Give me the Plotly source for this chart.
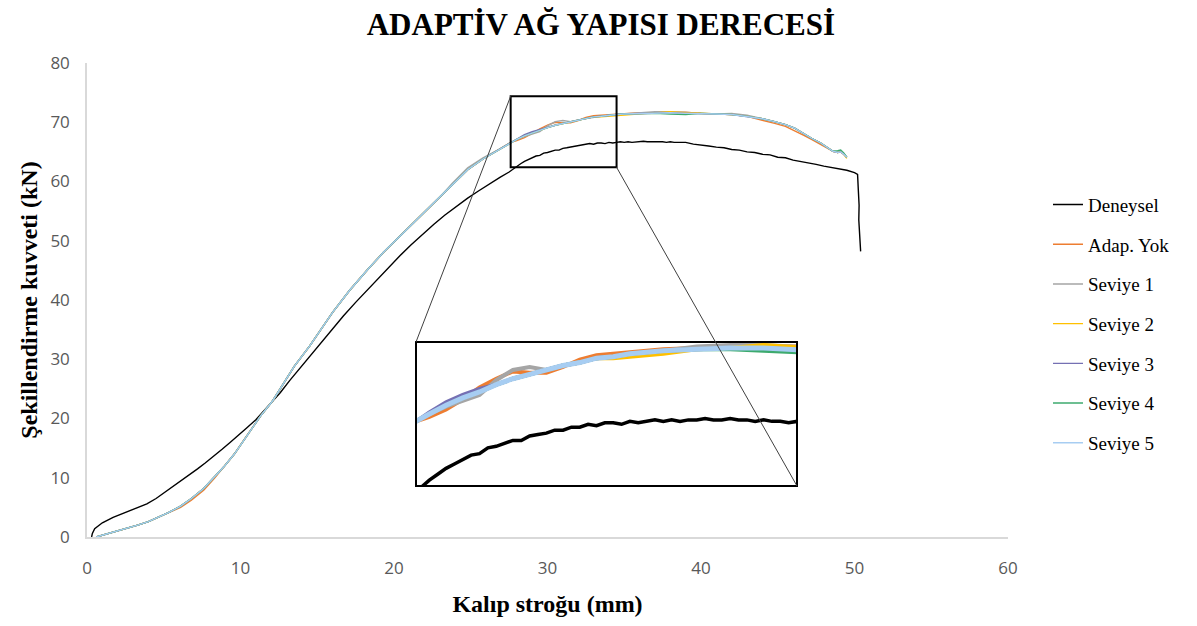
import plotly.graph_objects as go

# ---------------- data ----------------
SERIES_NAMES = ["Deneysel", "Adap. Yok", "Seviye 1", "Seviye 2", "Seviye 3", "Seviye 4", "Seviye 5"]
SERIES_COLORS = ["#000000", "#ED7D31", "#A5A5A5", "#FFC000", "#7570B3", "#3DAA6E", "#A7CDF2"]

X_TICKS = [0, 10, 20, 30, 40, 50, 60]
Y_TICKS = [0, 10, 20, 30, 40, 50, 60, 70, 80]

# Deneysel (experimental) curve: stroke (mm) / force (kN)
EXP_X = [0.3, 0.35, 0.5, 1.0, 1.7, 2.4, 3.0, 3.9, 4.5, 5.0,
         5.6, 6.1, 6.7, 7.2, 7.7, 8.2, 8.8, 9.3, 9.9, 10.4,
         11.0, 11.5, 12.0, 12.6, 13.2, 13.9, 14.5, 15.2, 16.0, 16.7,
         17.5, 18.3, 19.0, 19.7, 20.4, 21.1, 21.8, 22.6, 23.3, 24.0,
         24.8, 25.5, 26.2, 26.9, 27.5, 27.75, 28.0, 28.25, 28.5, 28.75,
         29.0, 29.25, 29.5, 29.75, 30.0, 30.25, 30.5, 30.75, 31.0, 31.25,
         31.5, 31.75, 32.0, 32.25, 32.5, 32.75, 33.0, 33.25, 33.5, 33.75,
         34.0, 34.25, 34.5, 34.75, 35.0, 35.25, 35.5, 35.75, 36.0, 36.25,
         36.5, 36.75, 37.0, 37.25, 37.5, 37.75, 38.0, 38.25, 38.5, 38.75,
         39.0, 39.5, 40.0, 40.5, 41.0, 41.5, 42.0, 42.5, 43.0, 43.5,
         44.0, 44.5, 45.0, 45.5, 46.0, 46.5, 47.0, 47.5, 48.0, 48.5,
         49.0, 49.5, 50.0, 50.2, 50.25, 50.3, 50.28, 50.35, 50.4]
EXP_Y = [0.0, 0.6, 1.4, 2.4, 3.3, 4.0, 4.6, 5.6, 6.5, 7.4,
         8.5, 9.5, 10.5, 11.5, 12.5, 13.5, 14.8, 15.9, 17.2, 18.4,
         19.8, 21.2, 22.6, 24.4, 26.4, 28.6, 30.5, 32.7, 35.2, 37.3,
         39.6, 41.8, 43.8, 45.7, 47.5, 49.3, 51.0, 52.8, 54.3, 55.7,
         57.2, 58.4, 59.6, 60.7, 61.6, 62.1, 62.6, 63.0, 63.4, 63.7,
         64.0, 64.3, 64.4, 64.8, 64.9, 65.1, 65.3, 65.3, 65.6, 65.7,
         65.8, 66.0, 66.0, 66.2, 66.2, 66.4, 66.3, 66.5, 66.5, 66.4,
         66.6, 66.5, 66.6, 66.7, 66.6, 66.7, 66.6, 66.7, 66.7, 66.8,
         66.7, 66.7, 66.8, 66.7, 66.7, 66.6, 66.7, 66.6, 66.6, 66.5,
         66.6, 66.3, 66.2, 66.0, 65.8, 65.7, 65.4, 65.3, 65.0, 64.9,
         64.6, 64.5, 64.1, 64.0, 63.6, 63.4, 63.1, 62.9, 62.6, 62.4,
         62.1, 61.9, 61.5, 61.2, 58.5, 56.0, 53.5, 51.0, 48.2]

# Simulation curves share one stroke grid
SIM_X = [0.6, 1.0, 1.7, 2.5, 3.3, 4.0, 4.6, 5.3, 6.1, 6.8,
         7.6, 8.3, 8.9, 9.6, 10.2, 10.8, 11.3, 12.1, 12.8, 13.5,
         14.5, 15.2, 16.0, 17.1, 18.3, 19.3, 20.4, 21.5, 22.6, 23.0,
         23.8, 24.8, 25.8, 26.9, 27.6, 28.0, 28.5, 29.0, 29.5, 30.0,
         30.5, 31.0, 31.5, 32.0, 32.5, 33.0, 33.5, 34.0, 34.5, 35.0,
         36.0, 37.0, 38.0, 39.0, 40.0, 41.0, 42.0, 43.0, 44.0, 44.8,
         45.5, 46.1, 46.7, 47.2, 47.8, 48.3, 48.6, 48.9, 49.1, 49.3,
         49.5]

ADAP_YOK_Y = [0.0, 0.3, 0.8, 1.3, 2.0, 2.6, 3.3, 4.1, 5.0, 6.2,
              7.9, 9.9, 11.8, 14.0, 16.3, 18.5, 20.4, 23.0, 25.9, 28.8,
              32.2, 34.8, 37.9, 41.6, 45.2, 48.0, 50.8, 53.5, 56.4, 57.4,
              59.4, 62.0, 63.8, 65.5, 66.6, 66.9, 67.4, 68.1, 68.9, 69.5,
              70.0, 69.9, 69.9, 70.3, 70.8, 71.1, 71.2, 71.3, 71.4, 71.5,
              71.6, 71.6, 71.7, 71.7, 71.5, 71.4, 71.3, 71.0, 70.4, 69.8,
              69.3, 68.6, 67.8, 67.1, 66.3, 65.6, 65.1, 64.9, 65.0, 64.6,
              64.1]
SEVIYE1_Y = [0.0, 0.3, 0.8, 1.3, 2.0, 2.6, 3.3, 4.1, 5.2, 6.5,
             8.2, 10.1, 11.8, 14.0, 16.3, 18.5, 20.4, 23.0, 25.9, 28.8,
             32.2, 34.8, 37.9, 41.6, 45.2, 48.0, 50.8, 53.5, 56.4, 57.4,
             59.7, 62.3, 64.0, 65.5, 66.6, 67.1, 67.6, 68.0, 68.4, 69.4,
             70.1, 70.3, 70.1, 70.4, 70.6, 70.9, 71.0, 71.2, 71.3, 71.4,
             71.7, 71.8, 71.8, 71.7, 71.5, 71.4, 71.5, 71.2, 70.6, 70.1,
             69.6, 69.0, 68.0, 67.3, 66.5, 65.6, 65.1, 64.9, 65.0, 64.6,
             64.1]
SEVIYE2_Y = [0.0, 0.3, 0.8, 1.3, 2.0, 2.6, 3.3, 4.1, 5.2, 6.5,
             8.2, 10.1, 11.8, 14.0, 16.3, 18.5, 20.4, 23.0, 25.9, 28.8,
             32.2, 34.8, 37.9, 41.6, 45.2, 48.0, 50.8, 53.5, 56.4, 57.4,
             59.4, 62.0, 63.8, 65.5, 66.6, 67.1, 67.7, 68.2, 68.6, 69.1,
             69.5, 69.8, 70.1, 70.4, 70.6, 70.9, 70.9, 71.0, 71.1, 71.2,
             71.5, 71.6, 71.8, 71.6, 71.5, 71.4, 71.3, 71.0, 70.6, 70.1,
             69.6, 69.0, 68.0, 67.3, 66.5, 65.6, 65.1, 64.9, 65.0, 64.6,
             63.9]
SEVIYE3_Y = [0.0, 0.3, 0.8, 1.3, 2.0, 2.6, 3.3, 4.1, 5.2, 6.5,
             8.2, 10.1, 11.8, 14.0, 16.3, 18.5, 20.4, 23.0, 25.9, 28.8,
             32.2, 34.8, 37.9, 41.6, 45.2, 48.0, 50.8, 53.5, 56.4, 57.4,
             59.4, 62.0, 63.8, 65.5, 66.6, 67.2, 67.9, 68.4, 68.8, 69.1,
             69.5, 69.8, 70.1, 70.4, 70.6, 70.9, 71.0, 71.2, 71.3, 71.4,
             71.5, 71.6, 71.6, 71.5, 71.5, 71.4, 71.3, 71.0, 70.6, 70.1,
             69.6, 69.0, 68.0, 67.3, 66.5, 65.6, 65.1, 64.9, 65.0, 64.6,
             64.1]
SEVIYE4_Y = [0.0, 0.3, 0.8, 1.3, 2.0, 2.6, 3.3, 4.1, 5.2, 6.5,
             8.2, 10.1, 11.8, 14.0, 16.3, 18.5, 20.4, 23.0, 25.9, 28.8,
             32.2, 34.8, 37.9, 41.6, 45.2, 48.0, 50.8, 53.5, 56.4, 57.4,
             59.4, 62.0, 63.8, 65.5, 66.6, 67.1, 67.7, 68.2, 68.6, 69.1,
             69.5, 69.8, 70.1, 70.4, 70.6, 70.9, 71.0, 71.2, 71.3, 71.4,
             71.5, 71.5, 71.4, 71.3, 71.5, 71.4, 71.3, 71.0, 70.6, 70.1,
             69.6, 69.0, 68.0, 67.3, 66.5, 65.6, 65.1, 65.2, 65.3, 64.8,
             64.1]
SEVIYE5_Y = [0.0, 0.3, 0.8, 1.3, 2.0, 2.6, 3.3, 4.1, 5.2, 6.5,
             8.2, 10.1, 11.8, 14.0, 16.3, 18.5, 20.4, 23.0, 25.9, 28.8,
             32.2, 34.8, 37.9, 41.6, 45.2, 48.0, 50.8, 53.5, 56.4, 57.4,
             59.4, 62.0, 63.8, 65.5, 66.6, 67.1, 67.7, 68.2, 68.6, 69.1,
             69.5, 69.8, 70.1, 70.4, 70.6, 70.9, 71.0, 71.2, 71.3, 71.4,
             71.5, 71.6, 71.6, 71.5, 71.5, 71.4, 71.3, 71.0, 70.6, 70.1,
             69.6, 69.0, 68.0, 67.3, 66.5, 65.6, 65.1, 64.9, 65.0, 64.6,
             64.1]

# zoom window marked on the main chart and the range shown in the inset
ZOOM_X = [27.6, 34.5]
ZOOM_Y = [62.4, 74.4]
INSET_X_RANGE = [27.6, 39.0]
INSET_Y_RANGE = [62.2, 72.0]

# ---------------- figure ----------------
W, H = 1197, 626
ML, MR, MT, MB = 87, 189, 63, 89
X_RANGE = [0, 60]
Y_RANGE = [0, 80]

# inset box position (paper fractions of the plot area)
INSET_DOM_X = [(416 - ML) / (W - ML - MR), (797 - ML) / (W - ML - MR)]
INSET_DOM_Y = [(H - MB - 486) / (H - MT - MB), (H - MB - 342) / (H - MT - MB)]

series = [
    (EXP_X, EXP_Y),
    (SIM_X, ADAP_YOK_Y),
    (SIM_X, SEVIYE1_Y),
    (SIM_X, SEVIYE2_Y),
    (SIM_X, SEVIYE3_Y),
    (SIM_X, SEVIYE4_Y),
    (SIM_X, SEVIYE5_Y),
]

fig = go.Figure()
for (xs, ys), name, color in zip(series, SERIES_NAMES, SERIES_COLORS):
    fig.add_trace(go.Scatter(
        x=xs, y=ys, mode="lines", name=name, legendgroup=name,
        line=dict(color=color, width=1.4),
        xaxis="x", yaxis="y",
    ))

inset_widths = [3.5, 4, 4, 4, 4, 4, 5]
for (xs, ys), name, color, lw in zip(series, SERIES_NAMES, SERIES_COLORS, inset_widths):
    fig.add_trace(go.Scatter(
        x=xs, y=ys, mode="lines", name=name, legendgroup=name, showlegend=False,
        line=dict(color=color, width=lw),
        xaxis="x2", yaxis="y2", hoverinfo="skip",
    ))

serif = "Liberation Serif, Times New Roman, serif"
tickfont = dict(family="Open Sans, sans-serif", size=17, color="#595959")

# convert inset box corners into main-axis data coords for connector lines
def dom_to_data(fx, fy):
    return (X_RANGE[0] + fx * (X_RANGE[1] - X_RANGE[0]),
            Y_RANGE[0] + fy * (Y_RANGE[1] - Y_RANGE[0]))

tl = dom_to_data(INSET_DOM_X[0], INSET_DOM_Y[1])
br = dom_to_data(INSET_DOM_X[1], INSET_DOM_Y[0])

shapes = [
    dict(type="rect", xref="x", yref="y", x0=ZOOM_X[0], x1=ZOOM_X[1], y0=ZOOM_Y[0], y1=ZOOM_Y[1],
         line=dict(color="black", width=2), layer="above"),
    dict(type="rect", xref="paper", yref="paper",
         x0=INSET_DOM_X[0], x1=INSET_DOM_X[1], y0=INSET_DOM_Y[0], y1=INSET_DOM_Y[1],
         line=dict(color="black", width=2), fillcolor="rgba(0,0,0,0)", layer="above"),
    dict(type="line", xref="x", yref="y", x0=ZOOM_X[0], y0=ZOOM_Y[1], x1=tl[0], y1=tl[1],
         line=dict(color="#404040", width=1), layer="above"),
    dict(type="line", xref="x", yref="y", x0=ZOOM_X[1], y0=ZOOM_Y[0], x1=br[0], y1=br[1],
         line=dict(color="#404040", width=1), layer="above"),
]

fig.update_layout(
    width=W, height=H,
    margin=dict(l=ML, r=MR, t=MT, b=MB),
    paper_bgcolor="white", plot_bgcolor="white",
    title=dict(text="ADAPTİV AĞ YAPISI DERECESİ", x=0.502, xanchor="center",
               y=1 - 24 / H, yanchor="middle", yref="container",
               font=dict(family=serif, size=31, color="black", weight="bold")),
    xaxis=dict(range=X_RANGE, tickvals=X_TICKS, showgrid=False, zeroline=False,
               showline=True, linecolor="#D9D9D9", linewidth=1.5,
               ticks="outside", ticklen=15, tickcolor="rgba(0,0,0,0)", tickfont=tickfont,
               title=dict(text="Kalıp stroğu (mm)", standoff=17,
                          font=dict(family=serif, size=24, color="black", weight="bold"))),
    yaxis=dict(range=Y_RANGE, tickvals=Y_TICKS, showgrid=False, zeroline=False,
               showline=True, linecolor="#D9D9D9", linewidth=1.5,
               ticks="outside", ticklen=12, tickcolor="rgba(0,0,0,0)", tickfont=tickfont,
               title=dict(text="Şekillendirme kuvveti (kN)", standoff=6,
                          font=dict(family=serif, size=24, color="black", weight="bold"))),
    xaxis2=dict(domain=INSET_DOM_X, range=INSET_X_RANGE, anchor="y2", visible=False),
    yaxis2=dict(domain=INSET_DOM_Y, range=INSET_Y_RANGE, anchor="x2", visible=False),
    legend=dict(x=(1048 - ML) / (W - ML - MR), xanchor="left", y=0.45, yanchor="middle",
                font=dict(family=serif, size=19, color="black"),
                tracegroupgap=12, bgcolor="rgba(0,0,0,0)"),
    shapes=shapes,
    showlegend=True,
)

fig.write_html("out.html")
